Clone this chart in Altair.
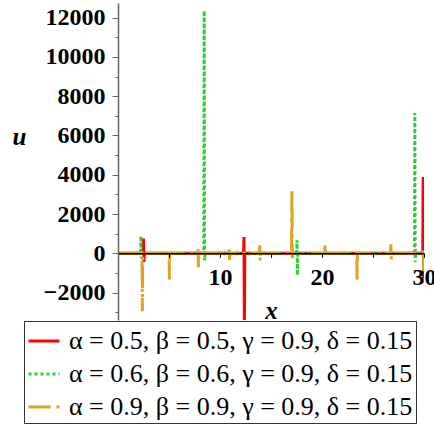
import altair as alt
import pandas as pd

X_MAX = 30
Y_DOMAIN = [-3400, 12750]

series_labels = [
    "α = 0.5, β = 0.5, γ = 0.9, δ = 0.15",
    "α = 0.6, β = 0.6, γ = 0.9, δ = 0.15",
    "α = 0.9, β = 0.9, γ = 0.9, δ = 0.15",
]
series_colors = ["#ff0000", "#36c936", "#daa520"]
series_dashes = [[1, 0], [3, 3], [22, 6, 3, 6]]
series_widths = [3, 3, 4]

# Spike positions along x, with the peak and trough each curve reaches there
red_x = [2.5, 12.35, 29.92]
red_up = [750, 830, 3880]
red_down = [-440, -3800, -1280]

green_x = [2.25, 8.45, 17.55, 29.1]
green_up = [870, 12350, 660, 7140]
green_down = [-260, -360, -1120, -460]

gold_x = [2.35, 5.0, 7.85, 10.9, 13.9, 17.05, 20.3, 23.4, 26.75, 29.92]
gold_up = [150, 150, 200, 300, 400, 3160, 460, 0, 460, 250]
gold_down = [-2960, -1330, -710, -350, -400, -250, -100, -1330, -300, -900]

y_ticks = list(range(-3000, 12001, 1000))
x_ticks = [5, 10, 15, 20, 25, 30]


def spike_rows(label, xs, ups, downs):
    rows = [(0.0, 0.0)]
    for x, up, dn in zip(xs, ups, downs):
        rows += [(x - 0.04, 0.0), (x, up), (x + 0.04, dn), (x + 0.08, 0.0)]
    rows.append((float(X_MAX), 0.0))
    return [{"series": label, "x": a, "u": b} for a, b in rows]


records = (
    spike_rows(series_labels[0], red_x, red_up, red_down)
    + spike_rows(series_labels[1], green_x, green_up, green_down)
    + spike_rows(series_labels[2], gold_x, gold_up, gold_down)
)
df = pd.DataFrame(records)

serif = "Liberation Serif"
zero_offset = -317 * (0 - Y_DOMAIN[0]) / (Y_DOMAIN[1] - Y_DOMAIN[0])

chart = (
    alt.Chart(df)
    .mark_line(clip=True, strokeCap="butt")
    .encode(
        x=alt.X(
            "x:Q",
            scale=alt.Scale(domain=[0, X_MAX], nice=False, zero=False),
            axis=alt.Axis(
                values=x_ticks,
                labelExpr="datum.value % 10 === 0 ? datum.label : ''",
                offset=zero_offset,
                tickSize=4,
                tickColor="black",
                domainColor="black",
                domainWidth=1.5,
                labelFont=serif,
                labelFontWeight="bold",
                labelFontSize=24,
                labelColor="black",
                labelPadding=8,
                labelFlush=False,
                labelOverlap=False,
                grid=False,
                title="x",
                titleFont=serif,
                titleFontSize=25,
                titleFontWeight="bold",
                titleFontStyle="italic",
                titleColor="black",
                titleX=153,
                titleY=57,
                titleAlign="center",
                titleBaseline="middle",
                zindex=1,
            ),
        ),
        y=alt.Y(
            "u:Q",
            scale=alt.Scale(domain=Y_DOMAIN, nice=False, zero=False),
            axis=alt.Axis(
                values=y_ticks,
                format="d",
                labelExpr="datum.value % 2000 === 0 ? datum.label : ''",
                tickSize={"condition": {"test": "datum.value % 2000 === 0", "value": 6}, "value": 3},
                tickColor="#666666",
                domainColor="#666666",
                domainWidth=1.5,
                labelFont=serif,
                labelFontWeight="bold",
                labelFontSize=24,
                labelColor="black",
                labelPadding=7,
                labelFlush=False,
                labelOverlap=False,
                grid=False,
                title="u",
                titleFont=serif,
                titleFontSize=25,
                titleFontWeight="bold",
                titleFontStyle="italic",
                titleColor="black",
                titleAngle=0,
                titleX=-99,
                titleY=133,
                titleAlign="center",
                titleBaseline="middle",
                zindex=1,
            ),
        ),
        color=alt.Color(
            "series:N",
            scale=alt.Scale(domain=series_labels, range=series_colors),
            title=None,
        ),
        strokeDash=alt.StrokeDash(
            "series:N",
            scale=alt.Scale(domain=series_labels, range=series_dashes),
            title=None,
        ),
        strokeWidth=alt.StrokeWidth(
            "series:N",
            scale=alt.Scale(domain=series_labels, range=series_widths),
            title=None,
        ),
    )
    .properties(
        width=306,
        height=317,
        autosize=alt.AutoSizeParams(type="none"),
        padding={"left": 118, "top": 3, "right": 10, "bottom": 108},
    )
    .configure_view(stroke=None)
    .configure_legend(
        orient="none",
        legendX=-94,
        legendY=318,
        strokeColor="#333333",
        strokeWidth=1,
        padding=3,
        rowPadding=3,
        symbolType="stroke",
        symbolSize=961,
        labelFont=serif,
        labelFontSize=26,
        labelColor="black",
        labelOffset=8,
        labelLimit=0,
        fillColor="white",
    )
)

chart.save("out.html", embed_options={"renderer": "svg", "actions": False})
